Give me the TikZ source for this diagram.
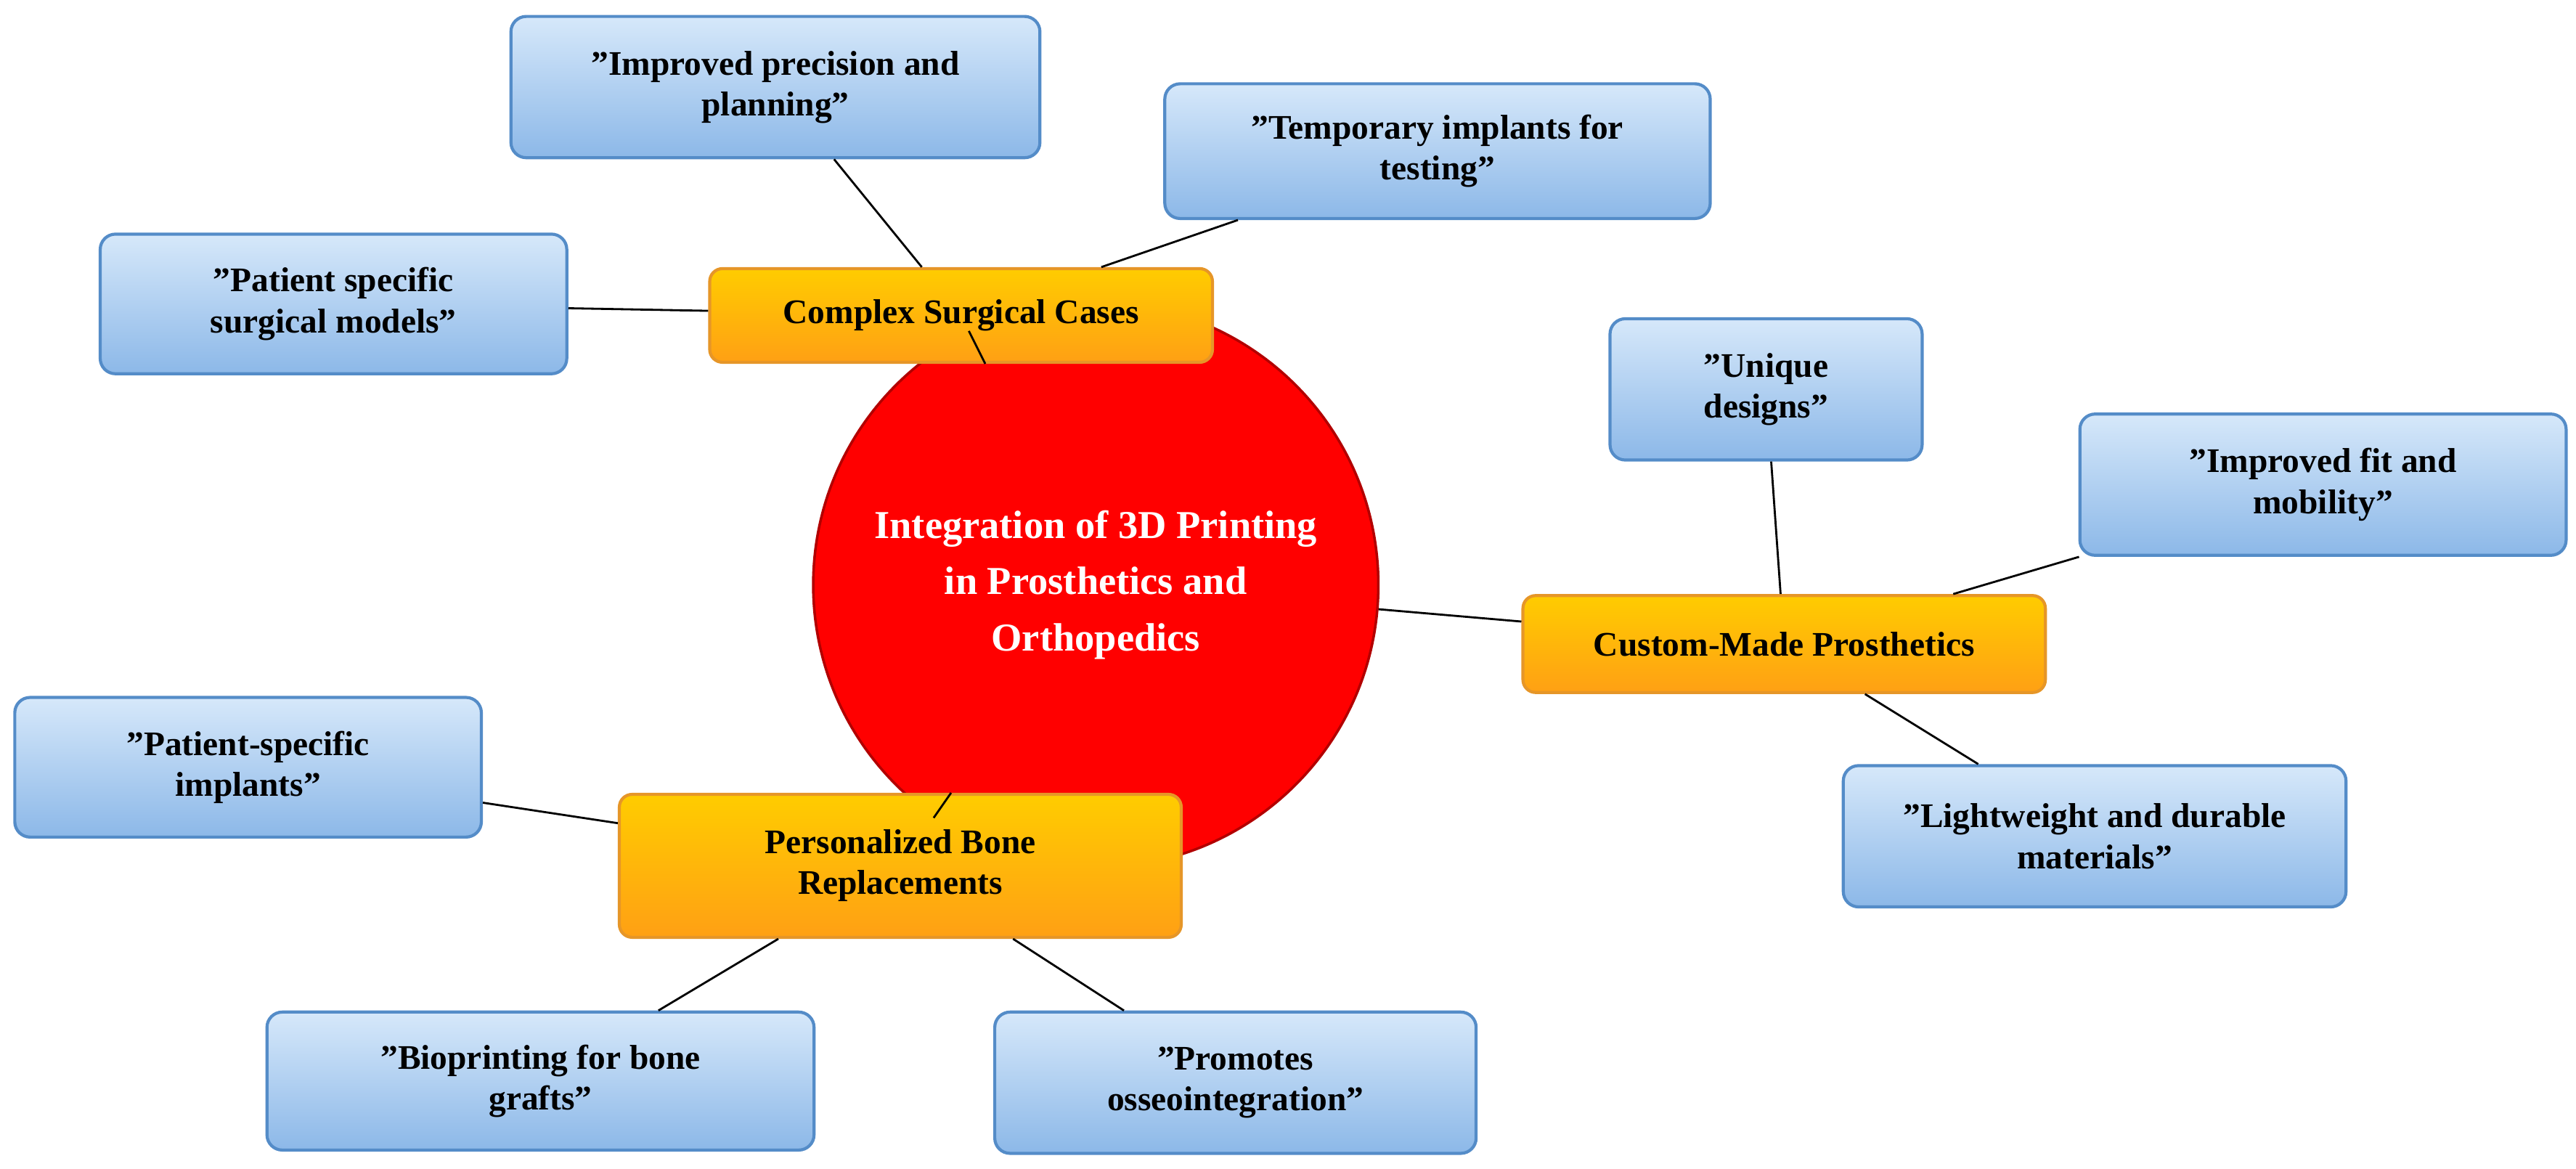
\documentclass[tikz,border=0pt]{standalone}
\usepackage{fontspec}
\setmainfont{Liberation Serif}
\usetikzlibrary{shapes,arrows,positioning}
\definecolor{bluetop}{RGB}{214,232,250}
\definecolor{bluebot}{RGB}{140,184,232}
\definecolor{blueline}{RGB}{84,140,200}
\definecolor{orgtop}{RGB}{255,204,0}
\definecolor{orgbot}{RGB}{255,160,20}
\definecolor{orgline}{RGB}{230,150,40}
\begin{document}
\begin{tikzpicture}[x=0.02263cm,y=-0.02263cm]

	\tikzstyle{leaf} = [rectangle, draw=blueline, line width=1.2pt, top color=bluetop, bottom color=bluebot, rounded corners=6pt, align=center, font=\fontsize{13.5}{16}\selectfont\bfseries, inner sep=2pt]
	\tikzstyle{branch} = [rectangle, draw=orgline, line width=1.2pt, top color=orgtop, bottom color=orgbot, rounded corners=5pt, align=center, font=\fontsize{13.5}{16}\selectfont\bfseries, inner sep=2pt]
	\tikzstyle{hub} = [circle, draw=red!70!black, line width=1pt, fill=red, text=white, align=center, font=\fontsize{15.5}{22}\selectfont\bfseries, minimum size=344*0.02263cm, inner sep=0pt]
	\tikzstyle{line} = [draw, line width=0.8pt]

	\useasboundingbox (0,0) rectangle (1568,711.5);

	\node [hub] (hub) at (667,356) {Integration of 3D Printing\\in Prosthetics and\\Orthopedics};

	\node [branch, minimum width=306*0.02263cm, minimum height=57*0.02263cm] (surg) at (585,192) {Complex Surgical Cases};
	\node [branch, minimum width=318*0.02263cm, minimum height=59*0.02263cm] (pros) at (1086,392) {Custom-Made Prosthetics};
	\node [branch, minimum width=342*0.02263cm, minimum height=87*0.02263cm] (bone) at (548,527) {Personalized Bone\\Replacements};

	\node [leaf, minimum width=322*0.02263cm, minimum height=86*0.02263cm] (prec) at (472,53) {"Improved precision and\\planning"};
	\node [leaf, minimum width=332*0.02263cm, minimum height=82*0.02263cm] (temp) at (875,92) {"Temporary implants for\\testing"};
	\node [leaf, minimum width=284*0.02263cm, minimum height=85*0.02263cm] (model) at (203,185) {"Patient specific\\surgical models"};
	\node [leaf, minimum width=190*0.02263cm, minimum height=86*0.02263cm] (uniq) at (1075,237) {"Unique\\designs"};
	\node [leaf, minimum width=296*0.02263cm, minimum height=86*0.02263cm] (fit) at (1414,295) {"Improved fit and\\mobility"};
	\node [leaf, minimum width=306*0.02263cm, minimum height=86*0.02263cm] (light) at (1275,509) {"Lightweight and durable\\materials"};
	\node [leaf, minimum width=284*0.02263cm, minimum height=85*0.02263cm] (impl) at (151,467) {"Patient-specific\\implants"};
	\node [leaf, minimum width=333*0.02263cm, minimum height=84*0.02263cm] (bio) at (329,658) {"Bioprinting for bone\\grafts"};
	\node [leaf, minimum width=293*0.02263cm, minimum height=86*0.02263cm] (osseo) at (752,659) {"Promotes\\osseointegration"};

	\path [line] (hub) 	-- 	(surg);
	\path [line] (hub) 	-- 	(pros);
	\path [line] (hub) 	-- 	(bone);
	\path [line] (surg) 	-- 	(prec);
	\path [line] (surg) 	-- 	(temp);
	\path [line] (surg) 	-- 	(model);
	\path [line] (pros) 	-- 	(uniq);
	\path [line] (pros) 	-- 	(fit);
	\path [line] (pros) 	-- 	(light);
	\path [line] (bone) 	-- 	(impl);
	\path [line] (bone) 	-- 	(bio);
	\path [line] (bone) 	-- 	(osseo);

\end{tikzpicture}
\end{document}
